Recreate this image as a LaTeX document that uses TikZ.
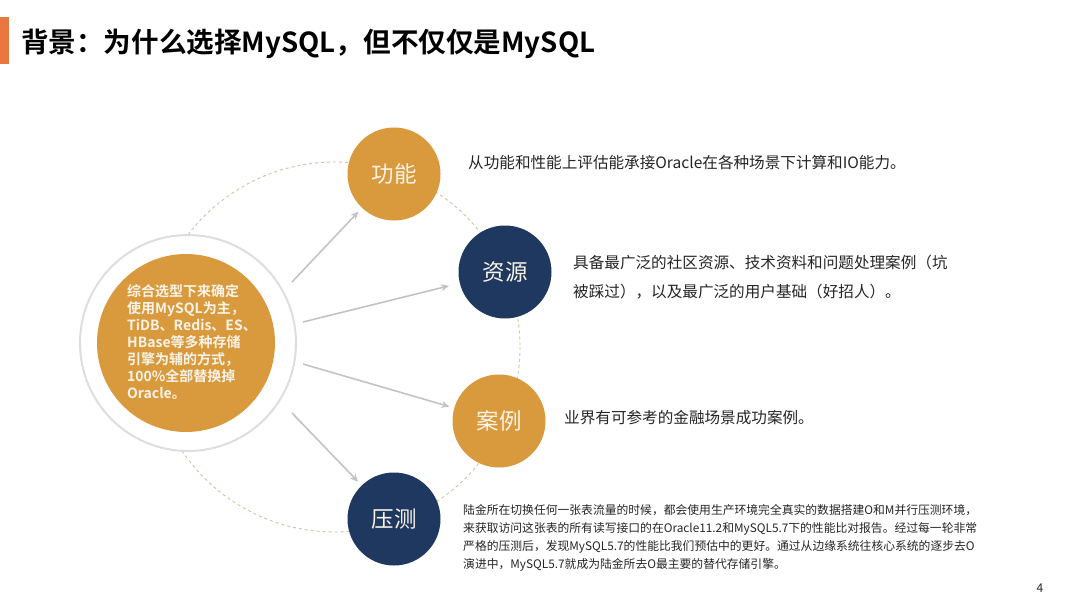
\documentclass[tikz,border=0pt]{standalone}
\usepackage{fontspec}
\setmainfont{Noto Sans CJK SC}[BoldFont={* Bold}]
\usetikzlibrary{arrows.meta}
\definecolor{barorange}{RGB}{232,119,64}
\definecolor{gold}{RGB}{216,154,60}
\definecolor{navy}{RGB}{30,56,96}
\definecolor{cream}{RGB}{250,243,232}
\definecolor{txt}{RGB}{38,38,38}
\definecolor{arrgray}{RGB}{195,195,195}
\definecolor{dashc}{RGB}{210,194,158}
\definecolor{ringc}{RGB}{222,222,222}
\tikzset{
  topic/.style={circle, minimum size=93pt, inner sep=0pt, text=cream, font=\fontsize{22.5}{26}\selectfont},
  goldc/.style={topic, fill=gold},
  navyc/.style={topic, fill=navy},
  arr/.style={draw=arrgray, line width=1.6pt, -{Stealth[length=8pt,width=7pt]}, shorten >=5pt},
  desc/.style={anchor=west, inner sep=0pt, text=txt, align=left, font=\fontsize{15.6}{29}\selectfont},
}
\begin{document}
\begin{tikzpicture}[x=1pt,y=-1pt]
\useasboundingbox[fill=white] (0,0) rectangle (1080,608);
% title
\fill[barorange] (0,17) rectangle (9,64);
\node[anchor=west, inner sep=0pt, font=\fontsize{27.6}{32}\selectfont\bfseries, text=black] (title) at (21,44) {背景：为什么选择MySQL，但不仅仅是MySQL};
% dashed circle
\draw[dashc, line width=0.9pt, dash pattern=on 3pt off 3pt] (335,347) circle[radius=185];
% left circles
\node[circle, minimum size=216pt, inner sep=0pt, fill=white, draw=ringc, line width=2pt] (ring) at (188,343) {};
\node[circle, minimum size=178pt, inner sep=0pt, fill=gold] (core) at (186,343) {};
\node[anchor=north west, inner sep=0pt, align=left, text=cream, font=\fontsize{14}{17}\selectfont\bfseries] (coretext) at (127,284) {综合选型下来确定\\使用MySQL为主，\\TiDB、Redis、ES、\\HBase等多种存储\\引擎为辅的方式，\\100\%全部替换掉\\Oracle。};
% topic circles
\node[goldc] (gn) at (394,174) {功能};
\node[navyc] (zy) at (505,272) {资源};
\node[goldc] (al) at (499,421) {案例};
\node[navyc] (yc) at (394,519) {压测};
% arrows
\coordinate (s1) at (292,282);
\coordinate (s2) at (303,322);
\coordinate (s3) at (303,364);
\coordinate (s4) at (292,413);
\draw[arr] (s1) -- (gn);
\draw[arr, shorten >=11pt] (s2) -- (zy);
\draw[arr] (s3) -- (al);
\draw[arr] (s4) -- (yc);
% descriptions
\node[desc] (d1) at (468,163) {从功能和性能上评估能承接Oracle在各种场景下计算和IO能力。};
\node[desc] (d2) at (573,277.5) {具备最广泛的社区资源、技术资料和问题处理案例（坑\\被踩过），以及最广泛的用户基础（好招人）。};
\node[desc] (d3) at (564,418) {业界有可参考的金融场景成功案例。};
\node[desc, font=\fontsize{11.8}{18}\selectfont] (d4) at (463,538) {陆金所在切换任何一张表流量的时候，都会使用生产环境完全真实的数据搭建O和M并行压测环境，\\来获取访问这张表的所有读写接口的在Oracle11.2和MySQL5.7下的性能比对报告。经过每一轮非常\\严格的压测后，发现MySQL5.7的性能比我们预估中的更好。通过从边缘系统往核心系统的逐步去O\\演进中，MySQL5.7就成为陆金所去O最主要的替代存储引擎。};
% page number
\node[font=\fontsize{12}{14}\selectfont, text=txt] (pg) at (1040,588) {4};
\end{tikzpicture}
\end{document}
